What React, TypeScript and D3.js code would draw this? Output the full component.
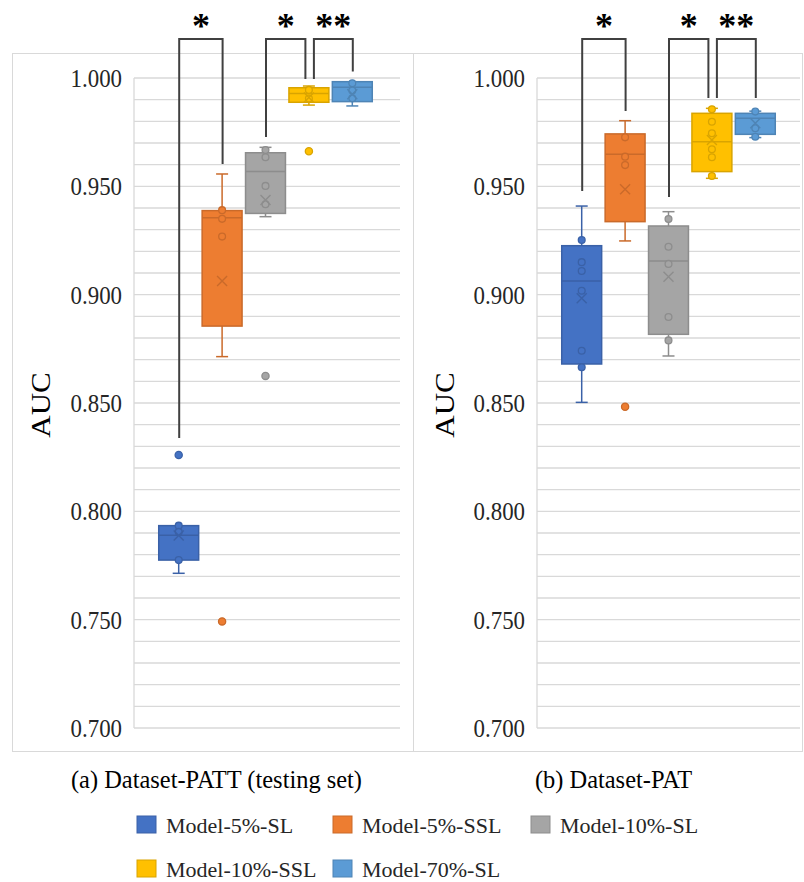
import React from "react";
import * as d3 from "d3";

// ---------- data ----------
const SERIES = ["Model-5%-SL", "Model-5%-SSL", "Model-10%-SL", "Model-10%-SSL", "Model-70%-SL"];
const COLORS = ["#4472C4", "#ED7D31", "#A5A5A5", "#FFC000", "#5B9BD5"];
const Y_TICKS = [0.7, 0.75, 0.8, 0.85, 0.9, 0.95, 1.0];
const Y_MINOR_STEP = 0.01;

// (a) Dataset-PATT (testing set)
const PATT_MIN = [0.7714, 0.8714, 0.936, 0.9875, 0.9871];
const PATT_Q1 = [0.7775, 0.8855, 0.9375, 0.9888, 0.9891];
const PATT_MEDIAN = [0.789, 0.9355, 0.9568, 0.9928, 0.9957];
const PATT_Q3 = [0.7934, 0.9388, 0.9655, 0.9955, 0.9983];
const PATT_MAX = [0.7934, 0.9557, 0.968, 0.9963, 0.9983];
const PATT_MEAN = [0.7888, 0.9063, 0.9437, 0.991, 0.9925];
const PATT_POINTS = [
  [0.7934, 0.7905, 0.7775],
  [0.939, 0.935, 0.9268],
  [0.9668, 0.9634, 0.9502, 0.9417],
  [0.9945, 0.9905],
  [0.9976, 0.9942, 0.9906],
];
const PATT_OUTLIERS = [[0.826], [0.7492], [0.8625], [0.9662], []];
const PATT_BRACKETS = [
  { from: 0, to: 1, label: "*", fromEnd: 0.8338, toEnd: 0.9603 },
  { from: 2, to: 3, label: "*", fromEnd: 0.9728, toEnd: 0.9995 },
  { from: 3, to: 4, label: "**", fromEnd: 0.9995, toEnd: 1.003 },
];

// (b) Dataset-PAT
const PAT_MIN = [0.8503, 0.9248, 0.8717, 0.9537, 0.9725];
const PAT_Q1 = [0.868, 0.9337, 0.8817, 0.9568, 0.974];
const PAT_MEDIAN = [0.9063, 0.9648, 0.9155, 0.9706, 0.9814];
const PAT_Q3 = [0.9226, 0.9742, 0.9317, 0.9837, 0.9837];
const PAT_MAX = [0.9409, 0.9803, 0.9383, 0.986, 0.9847];
const PAT_MEAN = [0.8983, 0.9486, 0.9083, 0.9714, 0.9791];
const PAT_POINTS = [
  [0.9252, 0.915, 0.9109, 0.9018, 0.8741, 0.8665],
  [0.9726, 0.9637, 0.9598],
  [0.9349, 0.9221, 0.9142, 0.8897, 0.8789],
  [0.9856, 0.9798, 0.9745, 0.9671, 0.9634, 0.9548],
  [0.9845, 0.9768, 0.9729],
];
const PAT_OUTLIERS = [[], [0.8483], [], [], []];
const PAT_BRACKETS = [
  { from: 0, to: 1, label: "*", fromEnd: 0.9478, toEnd: 0.9848 },
  { from: 2, to: 3, label: "*", fromEnd: 0.9451, toEnd: 0.9908 },
  { from: 3, to: 4, label: "**", fromEnd: 0.9908, toEnd: 0.9908 },
];
const BRACKET_TOP = 1.018;
const STAR_LEVEL = 1.0263;

const CAPTIONS = ["(a) Dataset-PATT (testing set)", "(b) Dataset-PAT"];
const Y_LABEL = "AUC";

// ---------- layout ----------
const W = 804;
const H = 882;
const FONT = "Liberation Serif, Tinos, Times New Roman, DejaVu Serif, serif";
const GRID = "#d9d9d9";

const y = d3.scaleLinear().domain([0.7, 1.0]).range([728, 78]);

type PanelProps = {
  plotLeft: number;
  plotRight: number;
  frameLeft: number;
  frameRight: number;
  mins: number[];
  q1s: number[];
  medians: number[];
  q3s: number[];
  maxs: number[];
  means: number[];
  points: number[][];
  outliers: number[][];
  brackets: { from: number; to: number; label: string; fromEnd: number; toEnd: number }[];
  caption: string;
};

const serif = { fontFamily: FONT };

function Panel(p: PanelProps) {
  const x = d3
    .scaleBand<string>()
    .domain(SERIES)
    .range([p.plotLeft + 23, p.plotLeft + 240])
    .paddingInner(0.08)
    .paddingOuter(0.04);
  const bw = x.bandwidth();
  const cx = (i: number) => (x(SERIES[i]) as number) + bw / 2;
  const minor = d3
    .range(Math.round(0.7 / Y_MINOR_STEP), Math.round(1.0 / Y_MINOR_STEP) + 1)
    .map((k) => k * Y_MINOR_STEP);
  const dark = (c: string) => d3.color(c)!.darker(0.45).formatHex();
  const cap = 6;

  return (
    <g>
      {minor.map((v, i) => (
        <line key={"g" + i} x1={p.plotLeft} x2={p.plotRight} y1={y(v)} y2={y(v)} stroke={GRID} strokeWidth={1.3} />
      ))}
      <line x1={p.plotLeft} x2={p.plotLeft} y1={y(1.0)} y2={y(0.7)} stroke={GRID} strokeWidth={1.3} />
      {Y_TICKS.map((v, i) => (
        <text
          key={"t" + i}
          transform={`translate(${p.plotLeft - 12},${y(v) + 9}) scale(0.88,1)`}
          textAnchor="end"
          style={serif}
          fontSize={26}
          fill="#262626"
        >
          {d3.format(".3f")(v)}
        </text>
      ))}
      <text
        transform={`translate(${p.frameLeft + 29},405) scale(0.88,1) rotate(-90)`}
        textAnchor="middle"
        dominantBaseline="central"
        style={serif}
        fontSize={31}
        fill="#000"
      >
        {Y_LABEL}
      </text>
      {SERIES.map((s, i) => {
        const c = COLORS[i];
        const dc = dark(c);
        const xc = cx(i);
        return (
          <g key={s}>
            {p.maxs[i] > p.q3s[i] && (
              <g>
                <line x1={xc} x2={xc} y1={y(p.q3s[i])} y2={y(p.maxs[i])} stroke={dc} strokeWidth={1.5} />
                <line x1={xc - cap} x2={xc + cap} y1={y(p.maxs[i])} y2={y(p.maxs[i])} stroke={dc} strokeWidth={1.5} />
              </g>
            )}
            {p.mins[i] < p.q1s[i] && (
              <g>
                <line x1={xc} x2={xc} y1={y(p.q1s[i])} y2={y(p.mins[i])} stroke={dc} strokeWidth={1.5} />
                <line x1={xc - cap} x2={xc + cap} y1={y(p.mins[i])} y2={y(p.mins[i])} stroke={dc} strokeWidth={1.5} />
              </g>
            )}
            <rect
              x={xc - bw / 2}
              width={bw}
              y={y(p.q3s[i])}
              height={y(p.q1s[i]) - y(p.q3s[i])}
              fill={c}
              stroke={dc}
              strokeWidth={1.5}
            />
            <line x1={xc - bw / 2} x2={xc + bw / 2} y1={y(p.medians[i])} y2={y(p.medians[i])} stroke={dc} strokeWidth={1.5} />
            {p.points[i].map((v, k) => (
              <circle key={"p" + k} cx={xc} cy={y(v)} r={3.4} fill={c} stroke={dc} strokeWidth={1.3} />
            ))}
            {p.outliers[i].map((v, k) => (
              <circle key={"o" + k} cx={xc} cy={y(v)} r={3.6} fill={c} stroke={dc} strokeWidth={1.3} />
            ))}
            <path
              d={`M${xc - 5},${y(p.means[i]) - 5}L${xc + 5},${y(p.means[i]) + 5}M${xc - 5},${y(p.means[i]) + 5}L${xc + 5},${y(p.means[i]) - 5}`}
              stroke={dc}
              strokeWidth={1.4}
              fill="none"
            />
          </g>
        );
      })}
      {p.brackets.map((b, i) => {
        const x1 = cx(b.from) + (b.from === 3 ? 5 : 0.5);
        const x2 = cx(b.to) + (b.to === 3 ? -3.5 : 0.5);
        return (
          <g key={"b" + i}>
            <path
              d={`M${x1},${y(b.fromEnd)}V${y(BRACKET_TOP)}H${x2}V${y(b.toEnd)}`}
              fill="none"
              stroke="#404040"
              strokeWidth={2}
            />
            <text
              x={(x1 + x2) / 2}
              y={y(STAR_LEVEL) + 17}
              textAnchor="middle"
              style={serif}
              fontWeight="bold"
              fontSize={36}
              fill="#000"
            >
              {b.label}
            </text>
          </g>
        );
      })}
      <text
        transform={`translate(${(p.frameLeft + p.frameRight) / 2 + 4},788) scale(0.94,1)`}
        textAnchor="middle"
        style={serif}
        fontSize={26}
        fill="#000"
      >
        {p.caption}
      </text>
    </g>
  );
}

const LEGEND_COLS = [137, 333, 531];

export default function App() {
  const legendPos = SERIES.map((_, i) => ({
    x: LEGEND_COLS[i % 3],
    y: i < 3 ? 816 : 860,
  }));
  return (
    <svg width={W} height={H} style={{ position: "absolute", left: 0, top: 0, background: "#fff" }}>
      <rect x={0} y={0} width={W} height={H} fill="#fff" />
      <rect x={12.5} y={53.5} width={401} height={698} fill="none" stroke={GRID} strokeWidth={1} />
      <rect x={413.5} y={53.5} width={389} height={698} fill="none" stroke={GRID} strokeWidth={1} />
      <Panel
        plotLeft={134}
        plotRight={400}
        frameLeft={12}
        frameRight={413}
        mins={PATT_MIN}
        q1s={PATT_Q1}
        medians={PATT_MEDIAN}
        q3s={PATT_Q3}
        maxs={PATT_MAX}
        means={PATT_MEAN}
        points={PATT_POINTS}
        outliers={PATT_OUTLIERS}
        brackets={PATT_BRACKETS}
        caption={CAPTIONS[0]}
      />
      <Panel
        plotLeft={537}
        plotRight={800}
        frameLeft={416}
        frameRight={803}
        mins={PAT_MIN}
        q1s={PAT_Q1}
        medians={PAT_MEDIAN}
        q3s={PAT_Q3}
        maxs={PAT_MAX}
        means={PAT_MEAN}
        points={PAT_POINTS}
        outliers={PAT_OUTLIERS}
        brackets={PAT_BRACKETS}
        caption={CAPTIONS[1]}
      />
      {SERIES.map((s, i) => (
        <g key={"l" + i}>
          <rect
            x={legendPos[i].x}
            y={legendPos[i].y}
            width={19}
            height={17}
            fill={COLORS[i]}
            stroke={d3.color(COLORS[i])!.darker(0.45).formatHex()}
            strokeWidth={1}
          />
          <text x={legendPos[i].x + 29} y={legendPos[i].y + 17} style={serif} fontSize={22} fill="#262626">
            {s}
          </text>
        </g>
      ))}
    </svg>
  );
}
